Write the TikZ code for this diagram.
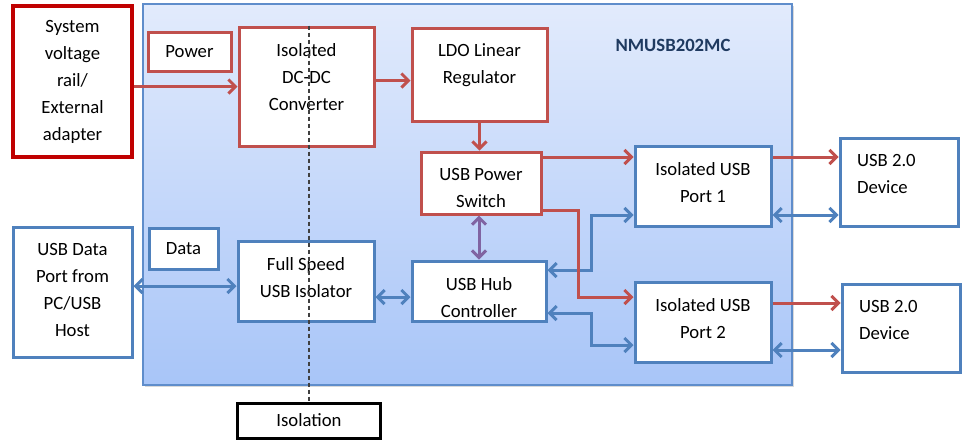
\documentclass[tikz,border=0pt]{standalone}
\usepackage{fontspec}
\setmainfont{Carlito}
\usetikzlibrary{shapes}
\usetikzlibrary{arrows.meta}
\usetikzlibrary{shadows}

\definecolor{pwr}{HTML}{C0504D}
\definecolor{sysred}{HTML}{C00000}
\definecolor{dat}{HTML}{4F81BD}
\definecolor{ctl}{HTML}{8064A2}
\definecolor{chipedge}{HTML}{5F8DCB}
\definecolor{chiptop}{HTML}{E2EBFC}
\definecolor{chipbot}{HTML}{A8C5F8}
\definecolor{navy}{HTML}{1F3A60}

\tikzset{
  blk/.style={draw, line width=3pt, fill=white, inner sep=0pt},
  pblk/.style={blk, draw=pwr},
  dblk/.style={blk, draw=dat},
  txt/.style={label={[anchor=north, yshift=-14pt, align=center]north:#1}},
  ltxt/.style={label={[anchor=north west, xshift=15pt, yshift=-14pt, align=left]north west:#1}},
  barb/.tip={Straight Barb[length=7pt,width=14pt]},
  parrow/.style={draw=pwr, line width=3pt, -barb},
  darrow/.style={draw=dat, line width=3pt, barb-barb},
  carrow/.style={draw=ctl, line width=3pt, barb-barb},
  dashline/.style={draw=black!75, line width=1.5pt, dash pattern=on 4pt off 3pt}
}

\begin{document}
\begin{tikzpicture}[x=1pt, y=-1pt, font=\fontsize{18.7}{27}\selectfont]
\useasboundingbox (0,0) rectangle (964,440);
\node[draw=chipedge, line width=1.5pt, top color=chiptop, bottom color=chipbot, minimum width=649pt, minimum height=381pt, drop shadow={shadow xshift=2pt, shadow yshift=-2pt, opacity=0.3}] (chip) at (467.5,194.5) {};
\node[font=\fontsize{18.7}{27}\selectfont\bfseries, text=navy] (name) at (673,45) {NMUSB202MC};

\node[blk, draw=sysred, line width=3.5pt, minimum width=119pt, minimum height=151pt, align=center] (sys) at (72.5,81.5) {System\\voltage\\rail/\\External\\adapter};
\node[pblk, minimum width=83pt, minimum height=39pt] (power) at (189.5,51.5) {Power};
\node[pblk, minimum width=135pt, minimum height=119pt, txt={Isolated\\DC-DC\\Converter}] (dcdc) at (306.5,86.5) {};
\node[pblk, minimum width=135pt, minimum height=93pt, txt={LDO Linear\\Regulator}] (ldo) at (479.5,74.5) {};
\node[pblk, minimum width=120pt, minimum height=62pt, txt={USB Power\\Switch}] (sw) at (481,183) {};

\node[dblk, minimum width=119pt, minimum height=130pt, txt={USB Data\\Port from\\PC/USB\\Host}] (host) at (72.5,292) {};
\node[dblk, minimum width=69pt, minimum height=41pt] (data) at (183.5,248.5) {Data};
\node[dblk, minimum width=136pt, minimum height=80pt, txt={Full Speed\\USB Isolator}] (iso) at (306,281) {};
\node[dblk, minimum width=134pt, minimum height=60pt, txt={USB Hub\\Controller}] (hub) at (479,291) {};
\node[dblk, minimum width=136pt, minimum height=80pt, txt={Isolated USB\\Port 1}] (p1) at (703,186) {};
\node[dblk, minimum width=136pt, minimum height=80pt, txt={Isolated USB\\Port 2}] (p2) at (703,322) {};
\node[dblk, minimum width=118pt, minimum height=88pt, ltxt={USB 2.0\\Device}] (d1) at (899,182) {};
\node[dblk, minimum width=118pt, minimum height=88pt, ltxt={USB 2.0\\Device}] (d2) at (901,328) {};

\node[blk, draw=black, minimum width=143pt, minimum height=35pt] (isol) at (309,420.5) {Isolation};

\draw[parrow] (sys.east |- dcdc.west) -- (dcdc.west);
\draw[parrow] ([yshift=6pt]dcdc.east) -- ([yshift=6pt]dcdc.east -| ldo.west);
\draw[parrow] (ldo.south) -- (ldo.south |- sw.north);
\draw[parrow] ([yshift=26pt]sw.east) -- ([yshift=26pt]sw.east -| p1.west);
\draw[parrow] ([yshift=29pt]p1.east) -- ([yshift=29pt]p1.east -| d1.west);
\draw[parrow] ([yshift=19pt]p2.east) -- ([yshift=19pt]p2.east -| d2.west);

\draw[darrow] ([yshift=6pt]host.east) -- ([yshift=6pt]host.east -| iso.west);
\draw[darrow] ([yshift=-16pt]iso.east) -- ([yshift=-16pt]iso.east -| hub.west);
\draw[darrow] ([yshift=21pt]hub.east) -- ++(44,0) |- ([yshift=-29pt]p1.west);
\draw[darrow] ([yshift=-22pt]hub.east) -- ++(44,0) |- ([yshift=-23pt]p2.west);
\draw[darrow] ([yshift=-29pt]p1.east) -- ([yshift=-29pt]p1.east -| d1.west);
\draw[darrow] ([yshift=-28pt]p2.east) -- ([yshift=-28pt]p2.east -| d2.west);
\draw[carrow] (hub.north |- sw.south) -- (hub.north);

\draw[parrow] ([yshift=-27pt]sw.east) -- ++(36,0) |- ([yshift=25pt]p2.west);

\draw[dashline] (isol.north |- dcdc.north) -- (isol.north);
\end{tikzpicture}
\end{document}
